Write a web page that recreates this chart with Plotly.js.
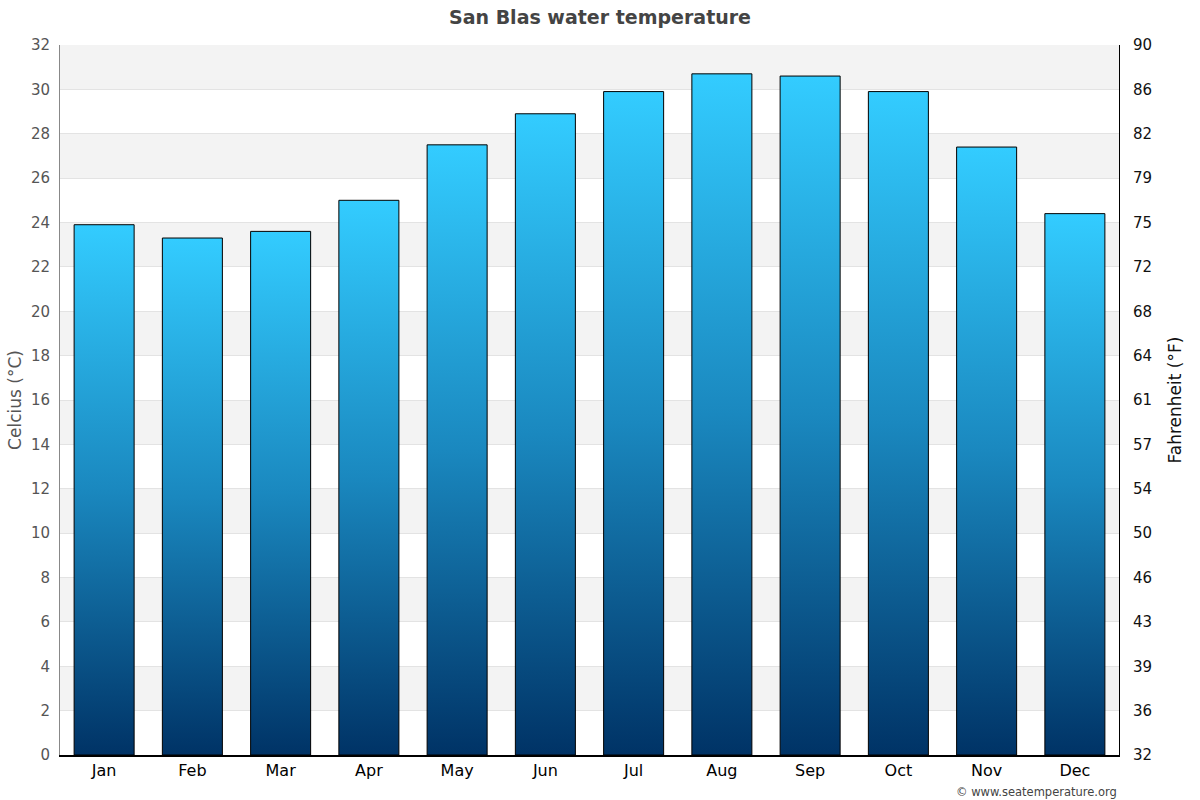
<!DOCTYPE html>
<html>
<head>
<meta charset="utf-8">
<script src="https://cdn.plot.ly/plotly-3.0.1.min.js"></script>
<style>
  body { margin: 0; background: #fff; }
  #chart { width: 1200px; height: 800px; }
</style>
</head>
<body>
<div id="chart"></div>
<script>
// monthly water temperature, degrees C
const months = ["Jan", "Feb", "Mar", "Apr", "May", "Jun", "Jul", "Aug", "Sep", "Oct", "Nov", "Dec"];
const tempC = [23.9, 23.3, 23.6, 25.0, 27.5, 28.9, 29.9, 30.7, 30.6, 29.9, 27.4, 24.4];
const celsiusTicks = [0, 2, 4, 6, 8, 10, 12, 14, 16, 18, 20, 22, 24, 26, 28, 30, 32];
const fahrenheitTicks = ["32", "36", "39", "43", "46", "50", "54", "57", "61", "64", "68", "72", "75", "79", "82", "86", "90"];

const font = "DejaVu Sans, sans-serif";

// grey bands every other 2 degrees
let shapes = [];
for (let i = 2; i < 32; i += 4) {
  shapes.push({
    type: "rect", xref: "paper", yref: "y", x0: 0, x1: 1, y0: i, y1: i + 2,
    fillcolor: "#f3f3f3", line: { width: 0 }, layer: "below"
  });
}

let data = [
  {
    x: months,
    y: tempC,
    type: "bar",
    marker: { color: "#33ccff", line: { color: "#000", width: 1 } },
    hoverinfo: "x+y"
  },
  {
    x: months,
    y: tempC,
    type: "scatter",
    mode: "none",
    yaxis: "y2",
    hoverinfo: "skip",
    showlegend: false
  }
];

let layout = {
  width: 1200,
  height: 800,
  margin: { l: 60, r: 81, t: 45, b: 45 },
  paper_bgcolor: "#fff",
  plot_bgcolor: "#fff",
  showlegend: false,
  bargap: 0.32,
  font: { family: font },
  title: {
    text: "<b>San Blas water temperature</b>",
    x: 0.5, xanchor: "center", y: 0.978, yanchor: "middle",
    font: { family: font, size: 19, color: "#444" }
  },
  xaxis: {
    showgrid: false,
    showline: true,
    linecolor: "#000",
    linewidth: 2,
    ticks: "",
    tickfont: { family: font, size: 16, color: "#000" },
    fixedrange: true
  },
  yaxis: {
    range: [0, 32],
    tickmode: "array",
    tickvals: celsiusTicks,
    showgrid: true,
    gridcolor: "#e3e3e3",
    showline: true,
    linecolor: "#888",
    linewidth: 1,
    zeroline: false,
    ticks: "",
    ticklabelstandoff: 6,
    tickfont: { family: font, size: 15, color: "#555" },
    title: { text: "Celcius (°C)", standoff: 4, font: { family: font, size: 17, color: "#555" } },
    fixedrange: true
  },
  yaxis2: {
    overlaying: "y",
    side: "right",
    range: [0, 32],
    tickmode: "array",
    tickvals: celsiusTicks,
    ticktext: fahrenheitTicks,
    showgrid: false,
    showline: true,
    linecolor: "#000",
    linewidth: 1,
    zeroline: false,
    ticks: "",
    ticklabelstandoff: 10,
    tickfont: { family: font, size: 15, color: "#111" },
    title: { text: "Fahrenheit (°F)", standoff: 18, font: { family: font, size: 17, color: "#111" } },
    fixedrange: true
  },
  shapes: shapes,
  annotations: [
    {
      text: "© www.seatemperature.org",
      xref: "paper", yref: "paper",
      x: 1, y: -0.052, xanchor: "right", yanchor: "middle",
      showarrow: false,
      font: { family: font, size: 11.5, color: "#444" }
    }
  ]
};

Plotly.newPlot("chart", data, layout, { displayModeBar: false, staticPlot: true }).then(function(gd) {
  // vertical gradient on every bar, light at the top to dark at the base
  const svg = gd.querySelector(".main-svg");
  const ns = "http://www.w3.org/2000/svg";
  let defs = svg.querySelector("defs");
  let grad = document.createElementNS(ns, "linearGradient");
  grad.setAttribute("id", "barGrad");
  grad.setAttribute("x1", "0");
  grad.setAttribute("y1", "0");
  grad.setAttribute("x2", "0");
  grad.setAttribute("y2", "1");
  [["0", "#33ccff"], ["0.5", "#1a88bf"], ["1", "#003366"]].forEach(function(s) {
    let stop = document.createElementNS(ns, "stop");
    stop.setAttribute("offset", s[0]);
    stop.setAttribute("stop-color", s[1]);
    grad.appendChild(stop);
  });
  defs.appendChild(grad);
  gd.querySelectorAll(".bars .point path").forEach(function(p) {
    p.style.fill = "url(#barGrad)";
  });
});
</script>
</body>
</html>
